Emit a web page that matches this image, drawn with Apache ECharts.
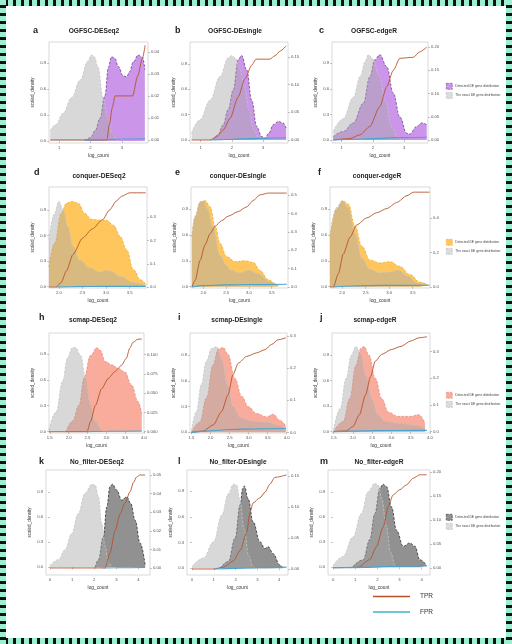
<!DOCTYPE html>
<html><head><meta charset="utf-8">
<script src="https://cdn.jsdelivr.net/npm/echarts@6/dist/echarts.min.js"></script>
<style>
html,body{margin:0;padding:0;background:#fff;}
#chart{position:absolute;left:0;top:0;width:512px;height:644px;}
.fr{position:absolute;pointer-events:none;}
#ft{left:0;top:0;width:512px;height:6px;background:repeating-linear-gradient(90deg,#9cf0d2 0 5px,#111 5px 8px);}
#fb{left:0;top:638px;width:512px;height:6px;background:repeating-linear-gradient(90deg,#9cf0d2 0 5px,#111 5px 8px);}
#fl{left:0;top:0;width:6px;height:644px;background:repeating-linear-gradient(180deg,#9cf0d2 0 5px,#111 5px 8px);}
#fr{left:506px;top:0;width:6px;height:644px;background:repeating-linear-gradient(180deg,#9cf0d2 0 5px,#111 5px 8px);}
</style></head>
<body>
<div id="chart"></div>
<div class="fr" id="ft"></div><div class="fr" id="fb"></div><div class="fr" id="fl"></div><div class="fr" id="fr"></div>
<script>
// ---------- categories / labels ----------
const panelLetters = ['a','b','c','d','e','f','h','i','j','k','l','m'];
const panelTitles = ['OGFSC-DESeq2','OGFSC-DEsingle','OGFSC-edgeR',
  'conquer-DESeq2','conquer-DEsingle','conquer-edgeR',
  'scmap-DESeq2','scmap-DEsingle','scmap-edgeR',
  'No_filter-DESeq2','No_filter-DEsingle','No_filter-edgeR'];
const legendDetected = 'Detected DE gene distribution';
const legendExact = 'The exact DE gene distribution';
const xName = 'log_count';
const yName = 'scaled_density';

// ---------- tick labels ----------
const xTicksOGFSC = [1,2,3];
const xTicksConquer = [2.0,2.5,3.0,3.5];
const xTicksScmap = [1.5,2.0,2.5,3.0,3.5,4.0];
const xTicksNoFilter = [0,1,2,3,4];
const densityTicks = [0,0.3,0.6,0.9];
const rTicks_a = [0,0.01,0.02,0.03,0.04];
const rTicks_b = [0,0.05,0.10,0.15];
const rTicks_c = [0,0.05,0.10,0.15,0.20];
const rTicks_d = [0,0.1,0.2,0.3];
const rTicks_e = [0,0.1,0.2,0.3,0.4,0.5];
const rTicks_f = [0,0.2,0.4];
const rTicks_h = [0,0.025,0.050,0.075,0.100];
const rTicks_i = [0,0.1,0.2,0.3];
const rTicks_j = [0,0.1,0.2,0.3];
const rTicks_k = [0,0.01,0.02,0.03,0.04,0.05];
const rTicks_l = [0,0.05,0.10,0.15];
const rTicks_m = [0,0.05,0.10,0.15,0.20];

// ---------- data: [log_count, value] ----------
const a_true = [[0.72,0.12],[0.9,0.19],[1.13,0.32],[1.4,0.5],[1.67,0.7],[1.92,0.92],[2.03,0.99],[2.12,0.97],[2.24,0.85],[2.4,0.5],[2.55,0.25],[2.7,0.08],[2.85,0.01],[2.95,0]];
const a_det = [[1.83,0],[2.0,0.04],[2.15,0.12],[2.3,0.26],[2.46,0.52],[2.57,0.85],[2.67,0.97],[2.78,0.95],[2.88,0.86],[3.04,0.75],[3.15,0.74],[3.25,0.8],[3.36,0.91],[3.52,0.99],[3.66,0.96],[3.73,0.82]];
const a_tpr = [[0.72,0],[2.52,0],[2.6,0.007],[2.7,0.015],[2.78,0.02],[3.34,0.02],[3.5,0.029],[3.65,0.037],[3.74,0.043]];
const a_fpr = [[1.8,0],[2.5,0.0002],[3.0,0.0004],[3.74,0.0005]];

const b_true = [[0.71,0.08],[0.98,0.24],[1.3,0.47],[1.62,0.75],[1.88,0.97],[1.99,1.0],[2.1,0.97],[2.25,0.85],[2.4,0.62],[2.55,0.35],[2.7,0.12],[2.85,0.02],[2.95,0]];
const b_det = [[1.4,0],[1.55,0.06],[1.72,0.18],[1.88,0.36],[2.04,0.59],[2.2,0.95],[2.31,1.0],[2.47,0.83],[2.63,0.47],[2.79,0.16],[2.95,0.04],[3.05,0.02],[3.18,0.08],[3.32,0.18],[3.48,0.22],[3.64,0.2],[3.73,0.14]];
const b_tpr = [[0.71,0],[1.3,0],[1.51,0.006],[1.72,0.018],[1.94,0.039],[2.2,0.078],[2.42,0.111],[2.63,0.135],[2.77,0.146],[3.21,0.146],[3.37,0.152],[3.55,0.161],[3.73,0.17]];
const b_fpr = [[1.3,0],[1.8,0.001],[2.3,0.002],[2.8,0.003],[3.73,0.004]];

const c_true = [[0.73,0.1],[1.05,0.25],[1.37,0.5],[1.6,0.75],[1.75,0.92],[1.85,1.0],[2.0,0.95],[2.2,0.75],[2.4,0.45],[2.6,0.15],[2.8,0.02],[2.9,0]];
const c_det = [[0.73,0.04],[1.05,0.1],[1.37,0.2],[1.69,0.43],[1.9,0.74],[2.06,0.94],[2.22,1.0],[2.44,0.86],[2.65,0.55],[2.86,0.27],[3.08,0.08],[3.18,0.07],[3.4,0.16],[3.56,0.2],[3.72,0.18]];
const c_tpr = [[0.73,0],[1.26,0.003],[1.58,0.011],[1.9,0.029],[2.22,0.072],[2.44,0.115],[2.65,0.15],[2.86,0.176],[3.29,0.178],[3.5,0.19],[3.72,0.2]];
const c_fpr = [[0.73,0],[1.3,0.001],[2.0,0.003],[2.8,0.005],[3.72,0.006]];

const d_true = [[1.79,0.55],[1.9,0.85],[2.0,1.0],[2.09,0.9],[2.19,0.7],[2.3,0.47],[2.44,0.31],[2.66,0.22],[2.87,0.17],[3.0,0.19],[3.1,0.18],[3.3,0.12],[3.58,0.05],[3.84,0.01]];
const d_det = [[1.79,0.23],[1.91,0.51],[2.05,0.86],[2.16,0.98],[2.27,1.0],[2.41,0.98],[2.55,0.86],[2.69,0.79],[2.87,0.78],[3.01,0.78],[3.16,0.72],[3.3,0.59],[3.44,0.43],[3.58,0.2],[3.73,0.08],[3.84,0.03]];
const d_tpr = [[1.79,0],[1.94,0],[2.05,0.02],[2.16,0.07],[2.3,0.14],[2.5,0.21],[2.71,0.25],[2.93,0.29],[3.07,0.33],[3.22,0.37],[3.33,0.39],[3.5,0.405],[3.84,0.405]];
const d_fpr = [[1.94,0],[2.3,0.002],[3.0,0.003],[3.84,0.003]];

const e_true = [[1.75,0.58],[1.82,0.82],[1.93,0.99],[2.0,1.0],[2.1,0.9],[2.2,0.7],[2.37,0.36],[2.5,0.25],[2.6,0.19],[2.8,0.16],[3.0,0.19],[3.2,0.15],[3.45,0.06],[3.65,0.01]];
const e_det = [[1.75,0.58],[1.82,0.81],[1.93,0.98],[2.04,1.0],[2.15,0.93],[2.26,0.7],[2.37,0.5],[2.51,0.35],[2.7,0.29],[2.91,0.3],[3.1,0.28],[3.24,0.19],[3.43,0.08],[3.61,0.02],[3.68,0.01]];
const e_tpr = [[1.75,0],[1.82,0.036],[1.93,0.145],[2.04,0.23],[2.15,0.29],[2.26,0.33],[2.4,0.36],[2.55,0.385],[2.77,0.41],[2.95,0.435],[3.1,0.47],[3.24,0.5],[3.43,0.51],[3.83,0.51]];
const e_fpr = [[1.75,0],[2.0,0.008],[2.5,0.012],[3.0,0.014],[3.83,0.015]];

const f_true = [[1.74,0.59],[1.88,0.92],[2.0,1.0],[2.13,0.92],[2.27,0.62],[2.42,0.33],[2.59,0.2],[2.8,0.16],[3.02,0.17],[3.2,0.19],[3.4,0.12],[3.6,0.04],[3.8,0.01]];
const f_det = [[1.74,0.59],[1.88,0.9],[2.02,1.0],[2.13,0.96],[2.27,0.71],[2.42,0.47],[2.59,0.31],[2.8,0.275],[3.02,0.29],[3.23,0.235],[3.44,0.14],[3.66,0.05],[3.83,0.02]];
const f_tpr = [[1.74,0],[1.81,0],[1.92,0.078],[2.02,0.19],[2.17,0.29],[2.31,0.36],[2.52,0.4],[2.73,0.43],[2.95,0.455],[3.16,0.49],[3.38,0.53],[3.52,0.55],[3.86,0.55]];
const f_fpr = [[1.81,0],[2.2,0.006],[2.8,0.009],[3.86,0.01]];

const h_true = [[1.48,0.02],[1.67,0.23],[1.84,0.58],[1.97,0.85],[2.1,0.97],[2.19,0.97],[2.32,0.88],[2.45,0.62],[2.58,0.31],[2.71,0.12],[2.88,0.02],[2.95,0]];
const h_det = [[1.93,0],[2.1,0.12],[2.28,0.31],[2.41,0.62],[2.58,0.88],[2.75,0.97],[2.84,0.94],[2.97,0.81],[3.15,0.77],[3.32,0.73],[3.49,0.69],[3.67,0.54],[3.84,0.35],[3.94,0.21]];
const h_tpr = [[1.48,0],[2.49,0],[2.58,0.013],[2.71,0.034],[2.88,0.056],[3.05,0.069],[3.23,0.078],[3.4,0.086],[3.53,0.095],[3.62,0.108],[3.71,0.116],[3.84,0.12],[3.94,0.12]];
const h_fpr = [[2.49,0],[3.0,0.0005],[3.94,0.0008]];

const i_true = [[1.5,0.02],[1.63,0.24],[1.76,0.56],[1.89,0.83],[2.03,0.98],[2.16,1.0],[2.3,0.85],[2.45,0.55],[2.6,0.3],[2.8,0.17],[3.1,0.13],[3.5,0.12],[3.8,0.08],[3.98,0.04]];
const i_det = [[1.5,0],[1.72,0.12],[1.89,0.4],[2.07,0.79],[2.2,0.97],[2.33,0.99],[2.46,0.91],[2.64,0.63],[2.82,0.42],[2.99,0.3],[3.21,0.22],[3.47,0.18],[3.65,0.21],[3.82,0.14],[3.98,0.07]];
const i_tpr = [[1.5,0],[1.8,0.004],[2.07,0.023],[2.29,0.065],[2.46,0.117],[2.59,0.18],[2.73,0.216],[2.95,0.237],[3.21,0.248],[3.43,0.258],[3.6,0.274],[3.78,0.289],[3.98,0.295]];
const i_fpr = [[1.5,0],[1.9,0.004],[2.5,0.009],[3.2,0.011],[3.98,0.012]];

const j_true = [[1.5,0.02],[1.67,0.27],[1.83,0.63],[1.96,0.9],[2.08,1.0],[2.2,0.92],[2.35,0.65],[2.5,0.38],[2.65,0.2],[2.85,0.12],[3.2,0.1],[3.6,0.08],[3.87,0.04]];
const j_det = [[1.5,0],[1.75,0.12],[1.92,0.39],[2.08,0.78],[2.21,0.98],[2.29,1.0],[2.42,0.9],[2.58,0.63],[2.75,0.39],[2.92,0.23],[3.17,0.18],[3.5,0.18],[3.71,0.2],[3.87,0.1]];
const j_tpr = [[1.5,0],[1.83,0.003],[2.0,0.019],[2.17,0.063],[2.33,0.138],[2.46,0.207],[2.58,0.264],[2.75,0.29],[3.0,0.308],[3.25,0.32],[3.5,0.34],[3.71,0.352],[3.92,0.356]];
const j_fpr = [[1.5,0],[2.0,0.002],[2.6,0.004],[3.92,0.005]];

const k_true = [[0,0.02],[0.38,0.09],[0.68,0.21],[0.98,0.4],[1.28,0.64],[1.58,0.88],[1.89,0.99],[2.04,0.98],[2.19,0.84],[2.34,0.52],[2.49,0.25],[2.64,0.05],[2.8,0]];
const k_det = [[2.04,0],[2.19,0.09],[2.41,0.36],[2.57,0.72],[2.71,0.96],[2.82,0.99],[3.02,0.92],[3.24,0.8],[3.47,0.84],[3.65,0.76],[3.85,0.56],[4.07,0.29],[4.3,0.03]];
const k_tpr = [[0,0],[2.49,0],[2.71,0.0079],[2.94,0.02],[3.17,0.029],[3.39,0.035],[3.62,0.041],[3.77,0.046],[3.92,0.049],[4.07,0.05],[4.3,0.05]];
const k_fpr = [[2.4,0],[3.0,0.0001],[4.3,0.0002]];

const l_true = [[0,0.02],[0.53,0.12],[0.99,0.31],[1.37,0.62],[1.67,0.87],[1.9,0.98],[2.05,0.97],[2.2,0.8],[2.4,0.45],[2.6,0.15],[2.8,0.02],[2.9,0]];
const l_det = [[1.29,0],[1.67,0.08],[1.98,0.35],[2.21,0.74],[2.33,0.93],[2.4,0.96],[2.58,0.81],[2.81,0.54],[3.12,0.31],[3.35,0.23],[3.5,0.25],[3.73,0.17],[4.03,0.04],[4.18,0]];
const l_tpr = [[0,0],[0.99,0],[1.44,0.003],[1.9,0.013],[2.21,0.03],[2.51,0.059],[2.66,0.091],[2.81,0.107],[3.12,0.115],[3.35,0.124],[3.58,0.137],[3.8,0.148],[4.34,0.152]];
const l_fpr = [[1.0,0],[2.0,0.001],[3.0,0.002],[4.34,0.003]];

const m_true = [[0,0.02],[0.45,0.13],[0.9,0.36],[1.28,0.64],[1.58,0.9],[1.89,1.0],[2.04,0.98],[2.2,0.82],[2.4,0.5],[2.6,0.18],[2.8,0.02],[2.9,0]];
const m_det = [[0.9,0.01],[1.36,0.09],[1.66,0.33],[1.89,0.64],[2.11,0.94],[2.26,0.99],[2.42,0.96],[2.64,0.72],[2.87,0.44],[3.17,0.25],[3.47,0.29],[3.7,0.25],[3.92,0.09],[4.23,0.02]];
const m_tpr = [[0,0],[1.13,0.001],[1.66,0.017],[1.96,0.044],[2.26,0.085],[2.49,0.127],[2.71,0.152],[3.02,0.163],[3.32,0.173],[3.62,0.187],[3.92,0.194],[4.23,0.194]];
const m_fpr = [[0,0],[1.5,0.001],[2.5,0.003],[4.23,0.004]];

// ---------- assembly ----------
const panelData = [
  [a_true,a_det,a_tpr,a_fpr,xTicksOGFSC,rTicks_a],
  [b_true,b_det,b_tpr,b_fpr,xTicksOGFSC,rTicks_b],
  [c_true,c_det,c_tpr,c_fpr,xTicksOGFSC,rTicks_c],
  [d_true,d_det,d_tpr,d_fpr,xTicksConquer,rTicks_d],
  [e_true,e_det,e_tpr,e_fpr,xTicksConquer,rTicks_e],
  [f_true,f_det,f_tpr,f_fpr,xTicksConquer,rTicks_f],
  [h_true,h_det,h_tpr,h_fpr,xTicksScmap,rTicks_h],
  [i_true,i_det,i_tpr,i_fpr,xTicksScmap,rTicks_i],
  [j_true,j_det,j_tpr,j_fpr,xTicksScmap,rTicks_j],
  [k_true,k_det,k_tpr,k_fpr,xTicksNoFilter,rTicks_k],
  [l_true,l_det,l_tpr,l_fpr,xTicksNoFilter,rTicks_l],
  [m_true,m_det,m_tpr,m_fpr,xTicksNoFilter,rTicks_m]
];

// layout & scales (positions, not data)
const layout = [
  {g:[49,42,99,101],  x:[0.68,3.83], yl:[-0.023,1.14], yr:[-0.0014,0.0445], xd:0, rd:2, lt:[33,26], tc:[94,28]},
  {g:[190,42,98,101], x:[0.66,3.79], yl:[-0.036,1.16], yr:[-0.0054,0.177],  xd:0, rd:2, lt:[175,26], tc:[235,28]},
  {g:[332,42,96,101], x:[0.69,3.76], yl:[-0.035,1.15], yr:[-0.0065,0.211],  xd:0, rd:2, lt:[319,26], tc:[374,28]},
  {g:[49,187,98,101], x:[1.79,3.87], yl:[-0.016,1.17], yr:[-0.004,0.43],    xd:1, rd:1, lt:[34,168], tc:[99,173]},
  {g:[191,187,97,101],x:[1.73,3.86], yl:[-0.016,1.16], yr:[-0.005,0.543],   xd:1, rd:1, lt:[175,168], tc:[238,173]},
  {g:[330,187,100,101],x:[1.74,3.87],yl:[-0.016,1.16], yr:[-0.006,0.58],    xd:1, rd:1, lt:[318,168], tc:[377,173]},
  {g:[49,333,95,100], x:[1.48,4.0],  yl:[-0.015,1.14], yr:[-0.0017,0.128],  xd:1, rd:3, lt:[39,313], tc:[93,317]},
  {g:[190,333,97,100],x:[1.46,4.01], yl:[-0.008,1.16], yr:[-0.002,0.31],    xd:1, rd:1, lt:[178,313], tc:[237,317]},
  {g:[332,333,98,100],x:[1.46,4.0],  yl:[-0.015,1.16], yr:[-0.005,0.37],    xd:1, rd:1, lt:[320,313], tc:[375,317]},
  {g:[46,470,104,105],x:[-0.18,4.52],yl:[-0.092,1.16], yr:[-0.0038,0.0527], xd:0, rd:2, lt:[39,457], tc:[97,459]},
  {g:[187,470,101,105],x:[-0.23,4.41],yl:[-0.078,1.146],yr:[-0.0097,0.16], xd:0, rd:2, lt:[178,457], tc:[238,459]},
  {g:[328,470,102,105],x:[-0.23,4.38],yl:[-0.092,1.16],yr:[-0.015,0.204],  xd:0, rd:2, lt:[320,457], tc:[379,459]}
];
const legendTops = [83, 239, 392, 514];

const FONT = '"Liberation Sans Narrow","Liberation Sans",Arial,sans-serif';
const rowFill = ['rgba(196,134,230,0.88)','rgba(255,190,72,0.88)','rgba(248,158,138,0.85)','rgba(118,118,118,0.8)'];
const rowEdge = ['#6b3d86','#f0a820','#e88878','#2e2e2e'];
const greyFill = 'rgba(168,168,168,0.45)';
const greyEdge = '#c4c4c4';
const tprColor = '#b5522a';
const fprColor = '#4aa3cf';

const grids=[], xAxes=[], yAxes=[], series=[], titles=[], legends=[];
const tickLbl = {fontSize:4.2, color:'#555', fontFamily:FONT};

layout.forEach((L,i)=>{
  const r = Math.floor(i/3);
  const [T,D,TPR,FPR,XT,RT] = panelData[i];
  grids.push({left:L.g[0], top:L.g[1], width:L.g[2], height:L.g[3], show:true, borderColor:'#c9c9c9', borderWidth:0.7, backgroundColor:'#fff', containLabel:false});
  xAxes.push({type:'value', gridIndex:i, min:L.x[0], max:L.x[1],
    name:xName, nameLocation:'middle', nameGap:10, nameTextStyle:{fontSize:4.8, color:'#333', fontFamily:FONT},
    axisLine:{show:false}, splitLine:{show:false},
    axisTick:{show:true, length:2, lineStyle:{color:'#888', width:0.5}, customValues:XT},
    axisLabel:{margin:3, ...tickLbl, customValues:XT, formatter:v=>Number(v).toFixed(L.xd)}});
  yAxes.push({type:'value', gridIndex:i, position:'left', min:L.yl[0], max:L.yl[1],
    name:yName, nameLocation:'middle', nameGap:14, nameRotate:90, nameTextStyle:{fontSize:4.5, color:'#333', fontFamily:FONT},
    axisLine:{show:false}, splitLine:{show:false},
    axisTick:{show:true, length:2, lineStyle:{color:'#888', width:0.5}, customValues:densityTicks},
    axisLabel:{margin:3, ...tickLbl, customValues:densityTicks, formatter:v=>Number(v).toFixed(1)}});
  yAxes.push({type:'value', gridIndex:i, position:'right', min:L.yr[0], max:L.yr[1],
    axisLine:{show:false}, splitLine:{show:false},
    axisTick:{show:true, length:2, lineStyle:{color:'#888', width:0.5}, customValues:RT},
    axisLabel:{margin:3, ...tickLbl, customValues:RT, formatter:v=>Number(v).toFixed(L.rd)}});
  series.push({type:'line', name:legendDetected+' #'+r, xAxisIndex:i, yAxisIndex:2*i, data:D,
    smooth:0.4, smoothMonotone:'x', symbol:'none', silent:true, z:2,
    lineStyle:{color:rowEdge[r], width:0.8, type:[2.5,1.5]}, itemStyle:{color:rowFill[r]},
    areaStyle:{color:rowFill[r], opacity:1}});
  series.push({type:'line', name:legendExact+' #'+r, xAxisIndex:i, yAxisIndex:2*i, data:T,
    smooth:0.4, smoothMonotone:'x', symbol:'none', silent:true, z:3,
    lineStyle:{color:greyEdge, width:0.8, type:[2.5,1.5]}, itemStyle:{color:'#d9d9d9'},
    areaStyle:{color:greyFill, opacity:1}});
  series.push({type:'line', name:'TPR', xAxisIndex:i, yAxisIndex:2*i+1, data:TPR,
    smooth:0.25, smoothMonotone:'x', symbol:'none', silent:true, z:4,
    lineStyle:{color:tprColor, width:0.9}, itemStyle:{color:tprColor}});
  series.push({type:'line', name:'FPR', xAxisIndex:i, yAxisIndex:2*i+1, data:FPR,
    smooth:0.25, smoothMonotone:'x', symbol:'none', silent:true, z:4,
    lineStyle:{color:fprColor, width:1.1}, itemStyle:{color:fprColor}});
  titles.push({text:panelLetters[i], left:L.lt[0], top:L.lt[1], padding:0,
    textStyle:{fontSize:9, fontWeight:'bold', color:'#222', fontFamily:'"Liberation Sans",Arial,sans-serif'}});
  titles.push({text:panelTitles[i], left:L.tc[0], top:L.tc[1], padding:0, textAlign:'center',
    textStyle:{fontSize:6.6, fontWeight:'bold', color:'#222', fontFamily:FONT}});
});

[0,1,2,3].forEach(r=>{
  legends.push({orient:'vertical', left:446, top:legendTops[r], padding:0, itemGap:2.5,
    itemWidth:6, itemHeight:6, selectedMode:false,
    textStyle:{fontSize:3.3, color:'#444', fontFamily:FONT, padding:[0,0,0,-2]},
    formatter:n=>n.replace(/ #\d$/,''),
    data:[
      {name:legendDetected+' #'+r, icon:'rect', itemStyle:{color:rowFill[r], borderColor:rowEdge[r], borderWidth:0.6, borderType:'dashed'}},
      {name:legendExact+' #'+r, icon:'rect', itemStyle:{color:'#dcdcdc', borderColor:'#b8b8b8', borderWidth:0.6, borderType:'dashed'}}
    ]});
});
legends.push({orient:'vertical', left:373, top:593, padding:0, itemGap:8.5,
  itemWidth:37, itemHeight:1.4, selectedMode:false,
  textStyle:{fontSize:6.5, color:'#333', fontFamily:'"Liberation Sans",Arial,sans-serif', padding:[0,0,0,5]},
  data:[{name:'TPR', icon:'rect', itemStyle:{color:tprColor}}, {name:'FPR', icon:'rect', itemStyle:{color:'#3fb3c9'}}]});

const chart = echarts.init(document.getElementById('chart'), null, {renderer:'canvas', width:512, height:644});
chart.setOption({
  animation:false,
  backgroundColor:'#fff',
  title:titles, grid:grids, xAxis:xAxes, yAxis:yAxes, legend:legends, series:series
});
</script>
</body></html>
